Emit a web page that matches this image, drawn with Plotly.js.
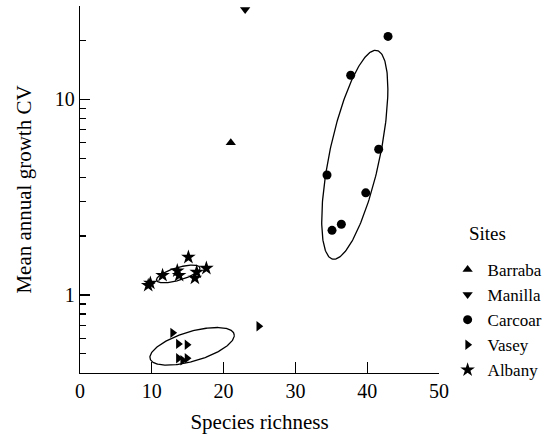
<!DOCTYPE html>
<html>
<head>
<meta charset="utf-8">
<script src="https://cdn.plot.ly/plotly-3.0.1.min.js"></script>
<style>html,body{margin:0;padding:0;background:#fff;}#chart{width:559px;height:440px;}</style>
</head>
<body>
<div id="chart"></div>
<script>
// ---- data ----
var siteNames = ["Barraba", "Manilla", "Carcoar", "Vasey", "Albany"];
var barrabaX = [21];
var barrabaY = [6.0];
var manillaX = [23];
var manillaY = [28.8];
var carcoarX = [42.9, 37.7, 41.6, 34.4, 39.8, 36.4, 35.1];
var carcoarY = [21.0, 13.3, 5.56, 4.11, 3.33, 2.30, 2.14];
var vaseyX = [12.9, 13.7, 14.9, 13.7, 14.3, 14.9, 24.9];
var vaseyY = [0.64, 0.562, 0.556, 0.475, 0.464, 0.475, 0.692];
var albanyX = [9.5, 9.8, 11.5, 13.55, 13.8, 15.1, 16.25, 16.0, 17.6];
var albanyY = [1.12, 1.15, 1.26, 1.33, 1.26, 1.56, 1.31, 1.22, 1.37];
var xTickVals = [0, 10, 20, 30, 40, 50];
var yMajorTickVals = [1, 10];
var yMajorTickText = ["1", "10"];
var yMinorTickVals = [0.4, 0.5, 0.6, 0.7, 0.8, 0.9, 2, 3, 4, 5, 6, 7, 8, 9, 20, 30];
var legendTitle = "Sites";
// ellipse size factors (multiples of the sample SD) per clustered group
var ellipseGroups = ["Carcoar", "Vasey", "Albany"];
var ellipseScale = [1.414, 1.414, 1.05];

// ---- helpers ----
function mean(a){ var s=0; a.forEach(function(v){s+=v;}); return s/a.length; }
function ellipse(xs, ys, k){
  var ly = ys.map(function(v){return Math.log10(v);});
  var mx = mean(xs), my = mean(ly), n = xs.length;
  var sxx=0, syy=0, sxy=0;
  for (var i=0;i<n;i++){ var dx=xs[i]-mx, dy=ly[i]-my; sxx+=dx*dx; syy+=dy*dy; sxy+=dx*dy; }
  sxx/=(n-1); syy/=(n-1); sxy/=(n-1);
  var sx=Math.sqrt(sxx), sy=Math.sqrt(syy), r=sxy/(sx*sy);
  var ex=[], ey=[];
  for (var j=0;j<=240;j++){
    var t = 2*Math.PI*j/240;
    ex.push(mx + k*sx*Math.cos(t));
    ey.push(Math.pow(10, my + k*sy*(r*Math.cos(t) + Math.sqrt(1-r*r)*Math.sin(t))));
  }
  return {x: ex, y: ey};
}

var serif = "Liberation Serif";
var groups = {
  "Barraba": {x: barrabaX, y: barrabaY, symbol: "triangle-up", size: 9},
  "Manilla": {x: manillaX, y: manillaY, symbol: "triangle-down", size: 9},
  "Carcoar": {x: carcoarX, y: carcoarY, symbol: "circle", size: 9},
  "Vasey":   {x: vaseyX,   y: vaseyY,   symbol: "triangle-right", size: 9},
  "Albany":  {x: albanyX,  y: albanyY,  symbol: "star", size: 11}
};

var traces = [];
ellipseGroups.forEach(function(name, i){
  var g = groups[name];
  var e = ellipse(g.x, g.y, ellipseScale[i]);
  traces.push({x: e.x, y: e.y, mode: "lines", type: "scatter", showlegend: false,
    hoverinfo: "skip", line: {color: "#000", width: 1.3}, cliponaxis: false});
});
siteNames.forEach(function(name){
  var g = groups[name];
  traces.push({x: g.x, y: g.y, name: name, mode: "markers", type: "scatter",
    cliponaxis: false,
    marker: {symbol: g.symbol, size: g.size, color: "#000", line: {width: 0}}});
});

// all y ticks (short) on the log axis; labels only on the major values
var allYTicks = yMajorTickVals.concat(yMinorTickVals);
var allYText = yMajorTickText.concat(yMinorTickVals.map(function(){ return ""; }));
// longer major ticks: overlay linear axis in log10 units with the same span
var yRange = [Math.log10(0.399), Math.log10(30.05)];
var majorLog = yMajorTickVals.map(function(v){ return Math.log10(v); });
traces.push({x: [barrabaX[0]], y: [Math.log10(barrabaY[0])], yaxis: "y2", mode: "markers",
  marker: {opacity: 0}, showlegend: false, hoverinfo: "skip", type: "scatter"});

var layout = {
  width: 559, height: 440,
  margin: {l: 80, r: 120, t: 6, b: 67},
  paper_bgcolor: "#fff", plot_bgcolor: "#fff",
  font: {family: serif, color: "#000", size: 19},
  showlegend: true,
  legend: {
    x: 1.024, xanchor: "left", y: 0.33, yanchor: "top",
    font: {family: serif, size: 17, color: "#000"},
    bgcolor: "rgba(0,0,0,0)", tracegroupgap: 0
  },
  annotations: [{
    text: legendTitle, xref: "paper", yref: "paper", x: 1.078, y: 0.379,
    xanchor: "left", yanchor: "middle", showarrow: false,
    font: {family: serif, size: 19, color: "#000"}
  }],
  xaxis: {
    range: [0, 50], tickmode: "array", tickvals: xTickVals,
    ticks: "inside", ticklen: 11, tickwidth: 1.3, tickcolor: "#000",
    showline: true, linecolor: "#000", linewidth: 1.3,
    showgrid: false, zeroline: false,
    tickfont: {family: serif, size: 20, color: "#000"},
    title: {text: "Species richness", font: {family: serif, size: 21, color: "#000"}, standoff: 13}
  },
  yaxis: {
    type: "log", range: yRange,
    tickmode: "array", tickvals: allYTicks, ticktext: allYText,
    ticks: "inside", ticklen: 6, tickwidth: 1.3, tickcolor: "#000",
    showline: true, linecolor: "#000", linewidth: 1.3,
    showgrid: false, zeroline: false,
    tickfont: {family: serif, size: 20, color: "#000"},
    title: {text: "Mean annual growth CV", font: {family: serif, size: 21, color: "#000"}, standoff: 17}
  },
  yaxis2: {
    type: "linear", range: yRange, overlaying: "y", side: "left",
    tickmode: "array", tickvals: majorLog, showticklabels: false,
    ticks: "inside", ticklen: 10, tickwidth: 1.3, tickcolor: "#000",
    showline: false, showgrid: false, zeroline: false
  }
};

Plotly.newPlot("chart", traces, layout, {displayModeBar: false, staticPlot: true});
</script>
</body>
</html>
